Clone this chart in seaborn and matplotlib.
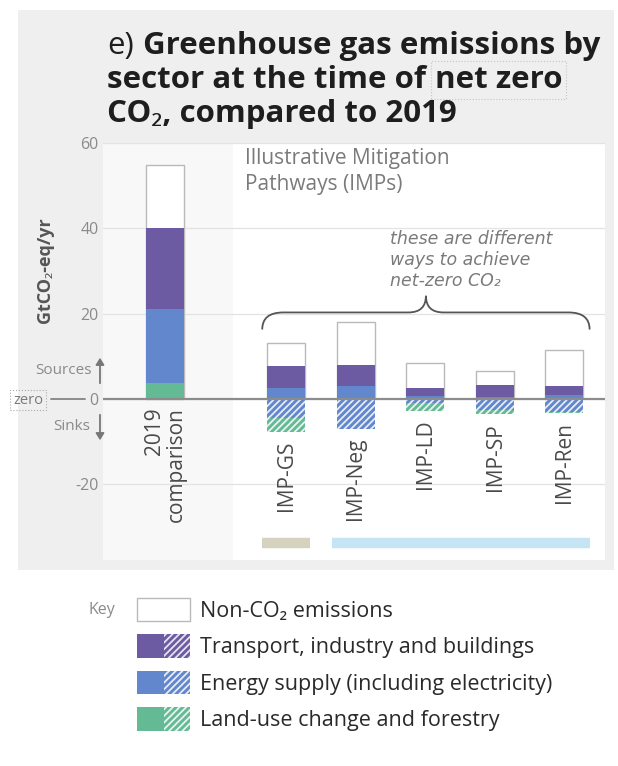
import numpy as np
import pandas as pd
import matplotlib
matplotlib.use("Agg")
import matplotlib.pyplot as plt
import seaborn as sns
from matplotlib.patches import Patch, Rectangle, PathPatch, FancyArrowPatch
from matplotlib.path import Path
from matplotlib.legend_handler import HandlerTuple
import matplotlib.transforms as mtransforms

# ---- data (GtCO2-eq/yr) ----
categories = ["2019\ncomparison", "IMP-GS", "IMP-Neg", "IMP-LD", "IMP-SP", "IMP-Ren"]
positions = [0.0, 1.73, 2.73, 3.72, 4.72, 5.71]

# sources (above zero)
land_use_src = [3.8, 0.0, 0.0, 0.0, 0.0, 0.0]
energy_src = [17.2, 2.7, 3.0, 0.8, 0.5, 1.0]
tib_src = [19.2, 5.0, 5.0, 1.7, 2.9, 2.0]
non_co2 = [14.6, 5.5, 10.0, 6.0, 3.2, 8.6]
# sinks (below zero)
energy_sink = [0.0, -4.4, -7.0, -0.8, -2.6, -3.0]
land_use_sink = [0.0, -3.4, 0.0, -1.9, -1.0, -0.3]

y_ticks = [60, 40, 20, 0, -20]
legend_labels = ["Non-CO₂ emissions",
                 "Transport, industry and buildings",
                 "Energy supply (including electricity)",
                 "Land-use change and forestry"]

# ---- style ----
sns.set_theme(style="white")
FONT = ["Open Sans", "Noto Sans", "DejaVu Sans"]
plt.rcParams["font.family"] = FONT
plt.rcParams["hatch.linewidth"] = 1.3

C_PURPLE = "#6c5aa2"
C_BLUE = "#6287cc"
C_GREEN = "#64ba95"
C_EDGE = "#b9b9b9"
C_GRAY_TXT = "#8a8a8a"

W, H = 618, 766
fig = plt.figure(figsize=(W / 100, H / 100), dpi=100)
fig.patch.set_facecolor("white")


def fx(x):
    return x / W


def fy(y):
    return 1 - y / H


# grey panel behind the chart
fig.add_artist(Rectangle((fx(18), fy(570)), fx(596), 560 / H,
                         transform=fig.transFigure, facecolor="#efefef",
                         edgecolor="none", zorder=0))

ax = fig.add_axes([fx(103), fy(560), fx(502), (560 - 143) / H])
ax.set_facecolor("#f8f8f8")
ax.set_axisbelow(True)

bar_w = 0.55

# white box for the pathways
ax.axvspan(0.97, 6.4, color="white", zorder=0, lw=0)


def layer(values, color, **kw):
    df = pd.DataFrame({"pos": positions, "value": values})
    sns.barplot(data=df, x="pos", y="value", native_scale=True, width=bar_w,
                color=color, saturation=1, errorbar=None, ax=ax, **kw)


land_arr = np.array(land_use_src)
cum_energy = land_arr + np.array(energy_src)
cum_tib = cum_energy + np.array(tib_src)
cum_total = cum_tib + np.array(non_co2)
cum_sink = np.array(energy_sink) + np.array(land_use_sink)

layer(cum_total, "white", edgecolor=C_EDGE, linewidth=1.0)
layer(cum_tib, C_PURPLE, linewidth=0)
layer(cum_energy, C_BLUE, linewidth=0)
layer(land_arr, C_GREEN, linewidth=0)
layer(cum_sink, C_GREEN, hatch="/////", edgecolor="#e8f5ee", linewidth=0)
layer(np.array(energy_sink), C_BLUE, hatch="/////", edgecolor="#e6ecf8", linewidth=0)

ax.set_xlim(-0.886, 6.29)
ax.set_ylim(-37.7, 60)
ax.set_yticks(y_ticks)
ax.set_yticklabels([str(t) for t in y_ticks])
ax.tick_params(axis="y", length=0, pad=3, labelsize=11.5, labelcolor=C_GRAY_TXT)
ax.set_xticks([])
ax.set_xlabel("")
ax.set_ylabel("")
ax.yaxis.grid(True, color="#e3e3e3", lw=0.9)
for s in ax.spines.values():
    s.set_visible(False)

# zero line
ax.axhline(0, color="#8c8c8c", lw=1.6, zorder=1.5)
blend = mtransforms.blended_transform_factory(ax.transAxes, ax.transData)
ax.plot([-0.103, -0.036], [0, 0], transform=blend, color="#8c8c8c", lw=1.4,
        clip_on=False)

# category labels below each bar
lows = np.minimum(cum_sink, 0)
for p, lab, lo in zip(positions, categories, lows):
    ax.annotate(lab, (p, lo), xytext=(0, -6), textcoords="offset points",
                rotation=90, ha="center", va="top", ma="right",
                fontsize=15, color="#4a4a4a", linespacing=1.05)

# grouping strips at the bottom
ax.hlines(-33.7, positions[1] - 0.34, positions[1] + 0.34, color="#d5d3bf", lw=7.5)
ax.hlines(-33.7, positions[2] - 0.34, positions[-1] + 0.36, color="#c5e5f4", lw=7.5)

# header of the pathways box
ax.text(1.14, 58.8, "Illustrative Mitigation\nPathways (IMPs)", ha="left", va="top",
        fontsize=15, color="#7a7a7a", linespacing=1.3)

# brace over the pathways
xl, xr = positions[1] - 0.34, positions[-1] + 0.36
xm = (xl + xr) / 2
yb, yh, yt = 16.3, 20.3, 24.2
verts = [(xl, yb), (xl, yh), (xl + 0.3, yh), (xm - 0.25, yh), (xm, yh), (xm, yt),
         (xm, yh), (xm + 0.25, yh), (xr - 0.3, yh), (xr, yh), (xr, yb)]
codes = [Path.MOVETO, Path.CURVE3, Path.CURVE3, Path.LINETO, Path.CURVE3, Path.CURVE3,
         Path.CURVE3, Path.CURVE3, Path.LINETO, Path.CURVE3, Path.CURVE3]
ax.add_patch(PathPatch(Path(verts, codes), facecolor="none", edgecolor="#555555",
                       lw=1.3, zorder=3))
ax.text(3.22, 39.6, "these are different\nways to achieve\nnet-zero CO₂",
        ha="left", va="top", fontsize=12.5, style="italic", color="#7a7a7a",
        linespacing=1.2, family=["DejaVu Sans"])

# left-hand annotations
fig.text(fx(45), fy(270), "GtCO₂-eq/yr", rotation=90, ha="center", va="center",
         fontsize=13, weight="bold", color="#555555")
fig.text(fx(92), fy(370), "Sources", ha="right", va="center", fontsize=11,
         color=C_GRAY_TXT)
fig.text(fx(90), fy(426), "Sinks", ha="right", va="center", fontsize=11,
         color=C_GRAY_TXT)
fig.add_artist(FancyArrowPatch(
    (fx(100), fy(386)), (fx(100), fy(355)), transform=fig.transFigure,
    arrowstyle="-|>,head_length=4,head_width=2.5", color="#777777", lw=1.3))
fig.add_artist(FancyArrowPatch(
    (fx(100), fy(412)), (fx(100), fy(443)), transform=fig.transFigure,
    arrowstyle="-|>,head_length=4,head_width=2.5", color="#777777", lw=1.3))
fig.text(fx(28), fy(400), "zero", ha="center", va="center", fontsize=10.5,
         color="#7a7a7a",
         bbox=dict(boxstyle="square,pad=0.2", fc="none", ec="#aaaaaa", lw=0.8, ls=":"))

# title, built from pieces so that weights can differ
fig.canvas.draw()
renderer = fig.canvas.get_renderer()
TS = 22.5


def piece(x_px, y_px, s, weight="bold", **kw):
    t = fig.text(fx(x_px), fy(y_px), s, fontsize=TS, weight=weight, va="baseline",
                 color="#1e1e1e", **kw)
    return t, t.get_window_extent(renderer).width


x0 = 107
t, w = piece(x0, 54, "e)", weight="normal")
piece(x0 + w + 9, 54, "Greenhouse gas emissions by")
t, w = piece(x0, 88, "sector at the time of")
piece(x0 + w + 9, 88, "net zero",
      bbox=dict(boxstyle="square,pad=0.12", fc="none", ec="#c4c4c4", lw=0.8, ls=":"))
piece(x0, 122, "CO₂, compared to 2019")

# key
fig.text(fx(88), fy(610), "Key", ha="left", va="center", fontsize=11.5,
         color=C_GRAY_TXT)
handles = [
    Patch(facecolor="white", edgecolor=C_EDGE, lw=1.0),
    (Patch(facecolor=C_PURPLE, lw=0),
     Patch(facecolor=C_PURPLE, hatch="/////", edgecolor="#e6e3f0", lw=0)),
    (Patch(facecolor=C_BLUE, lw=0),
     Patch(facecolor=C_BLUE, hatch="/////", edgecolor="#e6ecf8", lw=0)),
    (Patch(facecolor=C_GREEN, lw=0),
     Patch(facecolor=C_GREEN, hatch="/////", edgecolor="#e8f5ee", lw=0)),
]
fig.legend(handles, legend_labels, loc="upper left",
           bbox_to_anchor=(fx(137), fy(598)), frameon=False, fontsize=15.5,
           handlelength=2.47, handleheight=1.3, labelspacing=0.58,
           handletextpad=0.47, borderpad=0, borderaxespad=0,
           handler_map={tuple: HandlerTuple(ndivide=None, pad=0)},
           labelcolor="#2a2a2a")

fig.savefig("out.png", dpi=100)
